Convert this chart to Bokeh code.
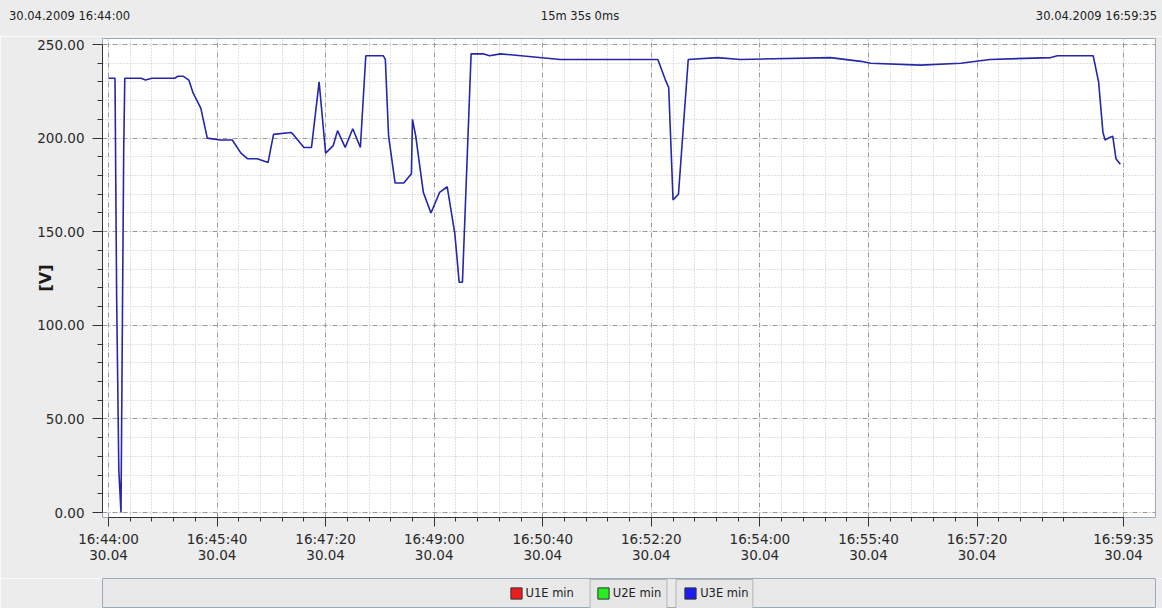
from bokeh.plotting import figure
from bokeh.models import (Range1d, FixedTicker, Legend, LegendItem,
                          ColumnDataSource, Div)
from bokeh.layouts import column
from bokeh.embed import file_html
from bokeh.resources import INLINE

# ---------------- data ----------------
# seconds elapsed since 30.04.2009 16:44:00
elapsed_s = [0, 6, 7.5, 9.5, 11.5, 13, 14, 15, 30, 34, 40, 61, 64, 69, 74, 78, 85, 91,
             103, 114, 122, 128, 137, 147, 152, 168, 170, 180, 187, 194, 200, 207, 211,
             218, 225, 232, 237, 253, 255, 258, 264, 272, 279, 280, 283, 290, 297, 305,
             312, 319, 323, 326, 328, 334, 345, 351, 361, 380, 416, 472, 481, 506, 513,
             516, 520, 525, 534, 561, 582, 665, 693, 702, 748, 785, 812, 868, 874, 907,
             912, 916, 918, 921, 925, 928, 932]
u3e_min = [232, 232, 115, 23, 0, 118, 193, 232, 232, 231, 232, 232, 233, 233, 231, 224,
           216, 200, 199, 199, 192, 189, 189, 187, 202, 203, 202, 195, 195, 230, 192,
           196, 204, 195, 205, 195, 244, 244, 242, 201, 176, 176, 181, 210, 201, 171,
           160, 171, 174, 149, 123, 123, 153, 245, 245, 244, 245, 244, 242, 242, 242,
           242, 231, 227, 167, 170, 242, 243, 242, 243, 241, 240, 239, 240, 242, 243,
           244, 244, 230, 203, 199, 200, 201, 189, 186]

x_tick_s = [0, 100, 200, 300, 400, 500, 600, 700, 800, 935]
x_tick_labels = ["16:44:00\n30.04", "16:45:40\n30.04", "16:47:20\n30.04",
                 "16:49:00\n30.04", "16:50:40\n30.04", "16:52:20\n30.04",
                 "16:54:00\n30.04", "16:55:40\n30.04", "16:57:20\n30.04",
                 "16:59:35\n30.04"]
x_minor_s = [s for s in range(20, 900, 20) if s % 100 != 0]
y_ticks = [0, 50, 100, 150, 200, 250]
y_tick_labels = ["0.00", "50.00", "100.00", "150.00", "200.00", "250.00"]
y_minor = [v for v in range(10, 260, 10) if v % 50 != 0]

series_names = ["U1E min", "U2E min", "U3E min"]
series_colors = ["#ee1c1c", "#22ee22", "#1c1cee"]

header_left = "30.04.2009 16:44:00"
header_mid = "15m 35s 0ms"
header_right = "30.04.2009 16:59:35"
y_label = "[V]"

FONT = "DejaVu Sans"
BG = "#ececec"
FRAME_LINE = "#9aaabb"
W = 1162

# ---------------- header strip ----------------
span = "position:absolute;top:9px;white-space:nowrap;"
header_html = (
    f'<div style="position:relative;width:{W}px;height:36px;background:{BG};'
    f"font-family:'{FONT}';font-size:11.5px;line-height:14px;color:#222;\">"
    f'<span style="{span}left:9px;">{header_left}</span>'
    f'<span style="{span}left:0;width:{W - 2}px;text-align:center;">{header_mid}</span>'
    f'<span style="{span}right:5px;">{header_right}</span>'
    '</div>')
ph = Div(text=header_html, width=W, height=36, margin=0,
         styles={"background-color": BG})

# ---------------- main chart ----------------
x0, x1 = -5.53, 964.4
y0, y1 = -2.67, 253.2
p = figure(width=W, height=542, x_range=Range1d(x0, x1), y_range=Range1d(y0, y1),
           output_backend="svg", toolbar_location=None,
           min_border_left=102, min_border_right=7, min_border_top=2,
           min_border_bottom=61)
p.background_fill_color = "white"
p.border_fill_color = BG
p.outline_line_color = FRAME_LINE
p.outline_line_width = 1

p.line(elapsed_s, u3e_min, line_color="#2626a8", line_width=1.6)

# axes
xa = p.xaxis[0]
xa.ticker = FixedTicker(ticks=x_tick_s, minor_ticks=x_minor_s)
xa.major_label_overrides = {t: l for t, l in zip(x_tick_s, x_tick_labels)}
xa.bounds = (x_tick_s[0], x_tick_s[-1])
xa.major_tick_in = 0
xa.major_tick_out = 9
xa.minor_tick_in = 0
xa.minor_tick_out = 4
xa.major_label_standoff = 4
xa.major_label_text_font = FONT
xa.major_label_text_font_size = "13.5px"
xa.major_label_text_line_height = 1.05
xa.major_label_text_color = "#2a2a2a"
xa.axis_line_color = "#333333"
xa.major_tick_line_color = "#333333"
xa.minor_tick_line_color = "#333333"

ya = p.yaxis[0]
ya.ticker = FixedTicker(ticks=y_ticks, minor_ticks=y_minor)
ya.major_label_overrides = {t: l for t, l in zip(y_ticks, y_tick_labels)}
ya.bounds = (y_ticks[0], y_ticks[-1])
ya.major_tick_in = 0
ya.major_tick_out = 10
ya.minor_tick_in = 0
ya.minor_tick_out = 5
ya.major_label_standoff = 8
ya.major_label_text_font = FONT
ya.major_label_text_font_size = "13.5px"
ya.major_label_text_color = "#2a2a2a"
ya.axis_line_color = "#333333"
ya.major_tick_line_color = "#333333"
ya.minor_tick_line_color = "#333333"
ya.axis_label = y_label
ya.axis_label_standoff = -21
ya.axis_label_text_font = FONT
ya.axis_label_text_font_size = "16px"
ya.axis_label_text_font_style = "bold"
ya.axis_label_text_color = "#1a1a1a"

# grids
for g in (p.xgrid[0], p.ygrid[0]):
    g.grid_line_color = "#9a9a9a"
    g.grid_line_dash = "5 2 1 2"
    g.grid_line_width = 1
    g.minor_grid_line_color = "#c2c2c2"
    g.minor_grid_line_dash = "1 2"
    g.minor_grid_line_width = 1

# ---------------- legend strip ----------------
pl = figure(width=W, height=30, x_range=Range1d(102, 1156), y_range=Range1d(0, 30),
            x_axis_type=None, y_axis_type=None,
            output_backend="svg", toolbar_location=None,
            min_border_left=102, min_border_right=6, min_border_top=0,
            min_border_bottom=0)
pl.background_fill_color = "#e9e9e9"
pl.border_fill_color = BG
pl.outline_line_color = FRAME_LINE
pl.grid.visible = False

# toggle-button frames around the 2nd and 3rd legend entries (decoration)
pl.quad(left=[590, 676], right=[667, 753], bottom=[-2, -2], top=[29, 29],
        fill_color="#e6e6e6", line_color="#b4b4b4", line_width=1)

items = []
for name, col in zip(series_names, series_colors):
    # placeholder swatch outside the visible strip: only its legend entry shows
    src = ColumnDataSource(data=dict(l=[-50], r=[-40], b=[-50], t=[-40]))
    r = pl.quad(left="l", right="r", bottom="b", top="t", source=src,
                fill_color=col, line_color="#303030")
    items.append(LegendItem(label=name, renderers=[r]))

leg = Legend(items=items, orientation="horizontal", location="center",
             glyph_width=14, glyph_height=14, label_standoff=3, spacing=22,
             padding=0, margin=0, border_line_color=None,
             background_fill_alpha=0, label_text_font=FONT,
             label_text_font_size="11.5px", label_text_color="#222222",
             label_height=14)
pl.add_layout(leg)

layout = column(ph, p, pl, spacing=0)
open("out.html", "w").write(file_html(layout, INLINE))
